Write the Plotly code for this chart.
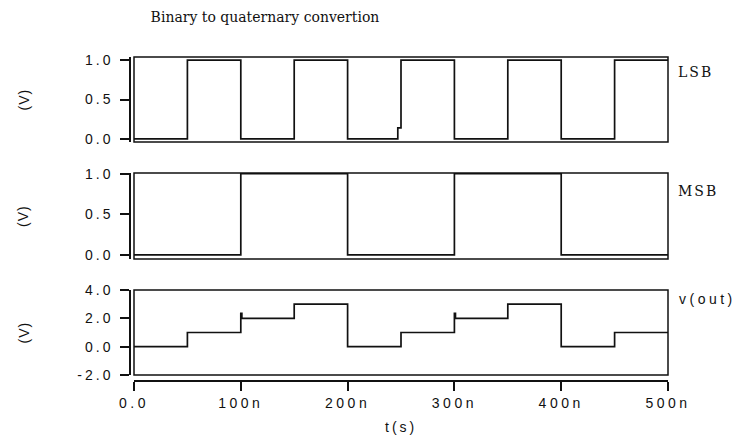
import plotly.graph_objects as go

# ---- data (time in ns) ----
t_lsb = [0, 50, 100, 150, 200, 247, 250, 300, 350, 400, 450, 500]
lsb = [0, 1, 0, 1, 0, 0.14, 1, 0, 1, 0, 1, 1]

t_msb = [0, 100, 200, 300, 400, 500]
msb = [0, 1, 0, 1, 0, 0]

t_out = [0, 50, 100, 101, 150, 200, 250, 300, 301, 350, 400, 450, 500]
vout = [0, 1, 2.35, 2, 3, 0, 1, 2.35, 2, 3, 0, 1, 1]

x_tickvals = [0, 100, 200, 300, 400, 500]
x_ticktext = ["0.0", "100n", "200n", "300n", "400n", "500n"]
y_bin_vals = [0, 0.5, 1.0]
y_bin_text = ["0.0", "0.5", "1.0"]
y_out_vals = [-2, 0, 2, 4]
y_out_text = ["-2.0", "0.0", "2.0", "4.0"]

W, H = 744, 438


def px_x(p):
    return p / W


def px_y(p):
    return 1 - p / H


def sp(s, ls=3.5):
    return '<span style="letter-spacing:%spx">%s</span>' % (ls, s)


INK = "#111111"
SANS = "Liberation Sans"
SERIF = "DejaVu Serif"

fig = go.Figure()
fig.add_trace(go.Scatter(x=t_lsb, y=lsb, mode="lines", line=dict(shape="hv", color=INK, width=1.7),
                         xaxis="x", yaxis="y", showlegend=False, name="LSB"))
fig.add_trace(go.Scatter(x=t_msb, y=msb, mode="lines", line=dict(shape="hv", color=INK, width=1.7),
                         xaxis="x2", yaxis="y2", showlegend=False, name="MSB"))
fig.add_trace(go.Scatter(x=t_out, y=vout, mode="lines", line=dict(shape="hv", color=INK, width=1.7),
                         xaxis="x3", yaxis="y3", showlegend=False, name="v(out)"))

xdom = [px_x(134), px_x(668)]
ypos = px_x(130)
panels = [(57, 142), (173, 259), (290, 375)]
yranges = [[-0.04, 1.04], [-0.05, 1.008], [-2, 4]]

common_y = dict(showline=True, linecolor=INK, linewidth=1.5, ticks="outside", ticklen=9,
                tickwidth=1.5, tickcolor=INK, showgrid=False, zeroline=False,
                tickfont=dict(family=SANS, size=14, color=INK), anchor="free",
                position=ypos, ticklabelstandoff=4, fixedrange=True, automargin=False)

layout = dict(
    template="none",
    width=W, height=H, margin=dict(l=0, r=0, t=0, b=0, pad=0, autoexpand=False),
    paper_bgcolor="white", plot_bgcolor="white",
    title=dict(text="Binary to quaternary convertion", x=px_x(265), y=px_y(17),
               xanchor="center", yanchor="middle", automargin=False,
               font=dict(family=SERIF, size=14, color=INK)),
)

for i, (top, bot) in enumerate(panels):
    sfx = "" if i == 0 else str(i + 1)
    ydict = dict(common_y)
    ydict["domain"] = [px_y(bot), px_y(top)]
    ydict["range"] = yranges[i]
    if i < 2:
        ydict["tickvals"] = y_bin_vals
        ydict["ticktext"] = [sp(t, 3) for t in y_bin_text]
    else:
        ydict["tickvals"] = y_out_vals
        ydict["ticktext"] = [sp(t, 3) for t in y_out_text]
    layout["yaxis" + sfx] = ydict
    if i < 2:
        layout["xaxis" + sfx] = dict(domain=xdom, range=[0, 500], anchor="y" + sfx,
                                     showline=False, showticklabels=False, ticks="",
                                     showgrid=False, zeroline=False, fixedrange=True,
                                     automargin=False)
    else:
        layout["xaxis" + sfx] = dict(domain=xdom, range=[0, 500], anchor="free",
                                     position=px_y(381), showline=True, linecolor=INK,
                                     linewidth=1.5, ticks="outside", ticklen=9, tickwidth=1.5,
                                     tickcolor=INK, tickvals=x_tickvals,
                                     ticktext=[sp(t) for t in x_ticktext],
                                     tickfont=dict(family=SANS, size=14, color=INK),
                                     ticklabelstandoff=0,
                                     showgrid=False, zeroline=False, fixedrange=True,
                                     automargin=False)

fig.update_layout(**layout)

# frames around each panel
for i in range(3):
    sfx = "" if i == 0 else str(i + 1)
    fig.add_shape(type="rect", xref="x%s domain" % sfx, yref="y%s domain" % sfx,
                  x0=0, x1=1, y0=0, y1=1, line=dict(color=INK, width=1.5), layer="above")

annos = [
    dict(text=sp("LSB", 2), x=px_x(676), y=px_y(72), font=dict(family=SERIF, size=14, color=INK)),
    dict(text=sp("MSB", 2), x=px_x(676), y=px_y(191), font=dict(family=SERIF, size=14, color=INK)),
    dict(text=sp("v(out)", 3.5), x=px_x(677), y=px_y(299), font=dict(family=SANS, size=14, color=INK)),
]
for a in annos:
    fig.add_annotation(xref="paper", yref="paper", xanchor="left", yanchor="middle",
                       showarrow=False, **a)

for top, bot in panels:
    fig.add_annotation(text=sp("(V)", 1), xref="paper", yref="paper", x=px_x(23),
                       y=px_y((top + bot) / 2), xanchor="center", yanchor="middle",
                       textangle=-90, showarrow=False, font=dict(family=SANS, size=14, color=INK))

fig.add_annotation(text=sp("t(s)", 3), xref="paper", yref="paper", x=px_x(401), y=px_y(437),
                   xanchor="center", yanchor="bottom", showarrow=False,
                   font=dict(family=SANS, size=14, color=INK))

fig.write_html("out.html")
